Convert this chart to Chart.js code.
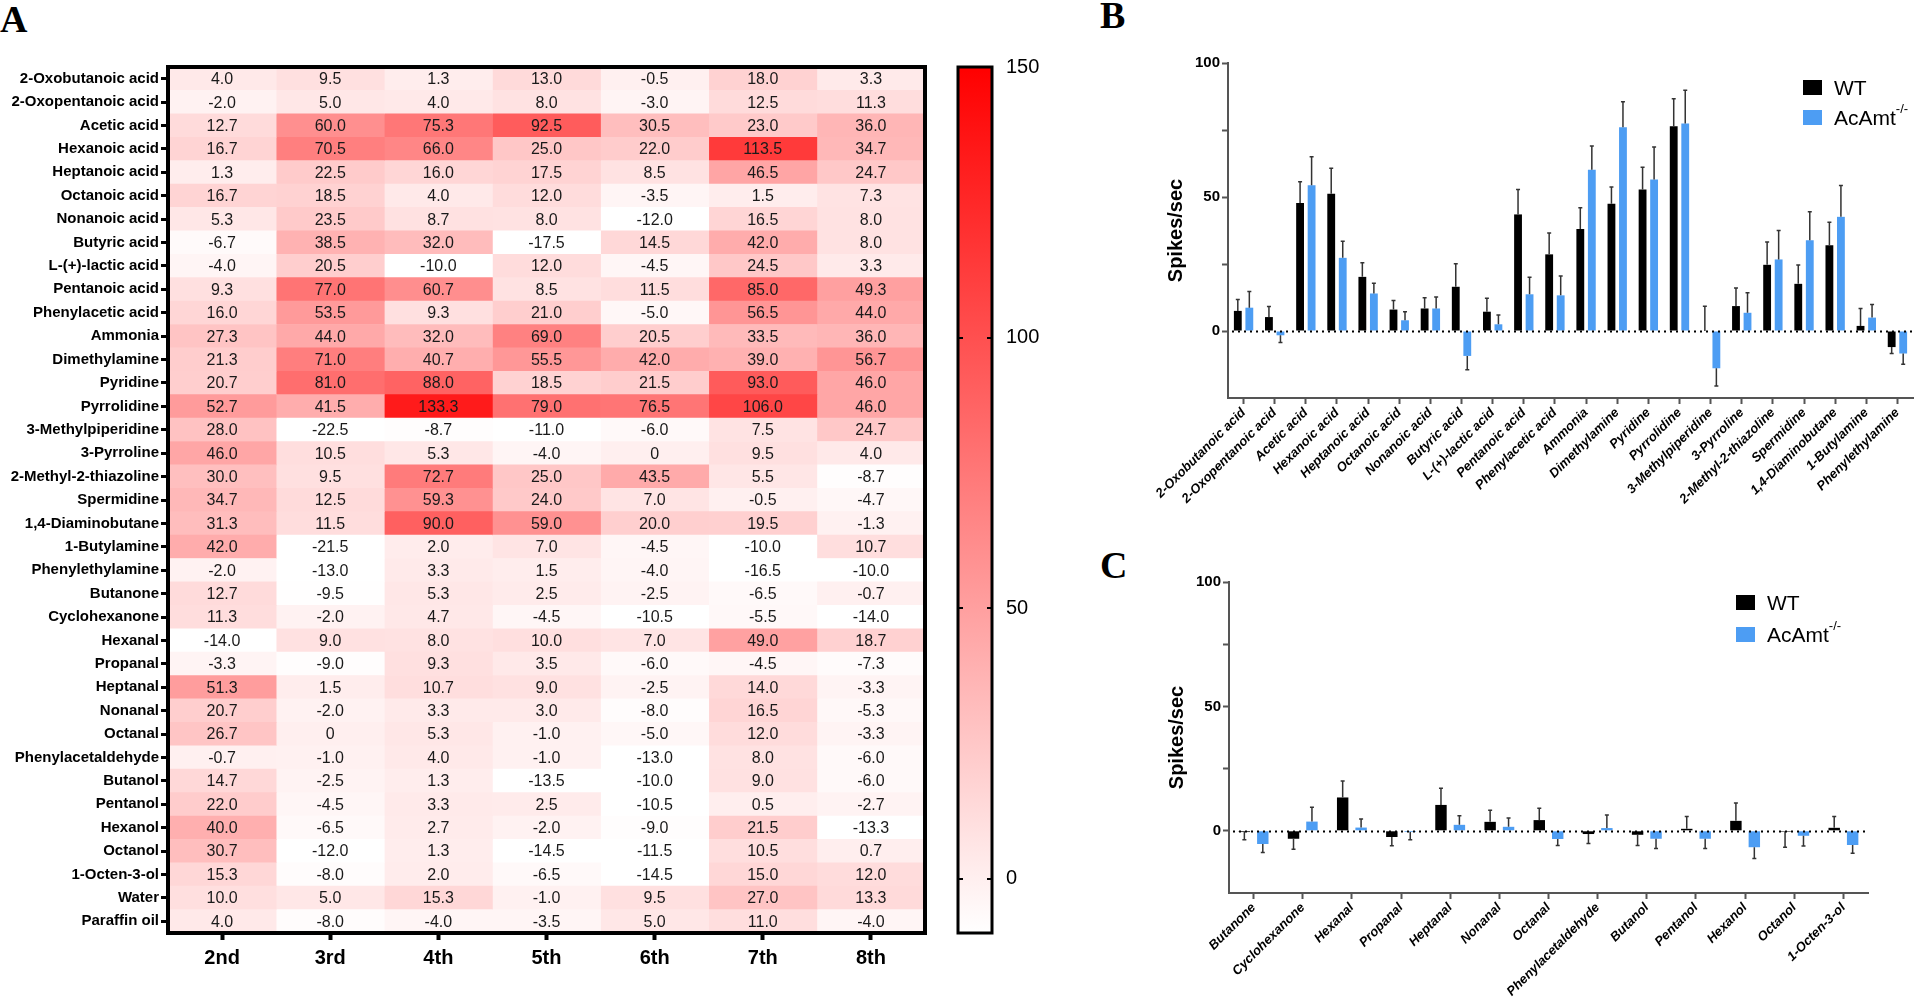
<!DOCTYPE html>
<html>
<head>
<meta charset="utf-8">
<script src="https://cdn.jsdelivr.net/npm/chart.js@4.4.1/dist/chart.umd.min.js"></script>
<style>
  html, body { margin: 0; padding: 0; background: #fff; }
  body { width: 1920px; height: 1004px; position: relative; overflow: hidden; font-family: "Liberation Sans", Arial, sans-serif; }
  canvas { position: absolute; }
  .panel { position: absolute; font-family: "Liberation Serif", "Times New Roman", serif; font-weight: bold; font-size: 38px; line-height: 38px; }
  .leg { position: absolute; display: flex; align-items: center; height: 15px; font-size: 21px; line-height: 15px; color: #000; }
  .leg .box { width: 19px; height: 15px; margin-right: 12px; }
  .leg sup { font-size: 13px; position: relative; top: -9px; vertical-align: baseline; }
</style>
</head>
<body>
<div class="panel" style="left:0px;top:0px;">A</div>
<div class="panel" style="left:1100px;top:-4px;">B</div>
<div class="panel" style="left:1100px;top:546px;">C</div>

<canvas id="heatmap" width="950" height="1004" style="left:0;top:0;"></canvas>
<canvas id="colorbar" width="110" height="1004" style="left:950px;top:0;"></canvas>
<canvas id="chartB" width="790" height="560" style="left:1130px;top:0;"></canvas>
<canvas id="chartC" width="790" height="444" style="left:1130px;top:560px;"></canvas>

<div class="leg" style="left:1803px;top:80px;"><div class="box" style="background:#000"></div>WT</div>
<div class="leg" style="left:1803px;top:110px;"><div class="box" style="background:#4d9df3"></div>AcAmt<sup>-/-</sup></div>
<div class="leg" style="left:1736px;top:595px;"><div class="box" style="background:#000"></div>WT</div>
<div class="leg" style="left:1736px;top:627px;"><div class="box" style="background:#4d9df3"></div>AcAmt<sup>-/-</sup></div>

<script>
// ---- panel A: heatmap data ----
const stages = ["2nd", "3rd", "4th", "5th", "6th", "7th", "8th"];
const odorants = [
  "2-Oxobutanoic acid", "2-Oxopentanoic acid", "Acetic acid", "Hexanoic acid", "Heptanoic acid",
  "Octanoic acid", "Nonanoic acid", "Butyric acid", "L-(+)-lactic acid", "Pentanoic acid",
  "Phenylacetic acid", "Ammonia", "Dimethylamine", "Pyridine", "Pyrrolidine",
  "3-Methylpiperidine", "3-Pyrroline", "2-Methyl-2-thiazoline", "Spermidine", "1,4-Diaminobutane",
  "1-Butylamine", "Phenylethylamine", "Butanone", "Cyclohexanone", "Hexanal",
  "Propanal", "Heptanal", "Nonanal", "Octanal", "Phenylacetaldehyde",
  "Butanol", "Pentanol", "Hexanol", "Octanol", "1-Octen-3-ol", "Water", "Paraffin oil"
];
const stage2nd = [4.0, -2.0, 12.7, 16.7, 1.3, 16.7, 5.3, -6.7, -4.0, 9.3, 16.0, 27.3, 21.3, 20.7, 52.7, 28.0, 46.0, 30.0, 34.7, 31.3, 42.0, -2.0, 12.7, 11.3, -14.0, -3.3, 51.3, 20.7, 26.7, -0.7, 14.7, 22.0, 40.0, 30.7, 15.3, 10.0, 4.0];
const stage3rd = [9.5, 5.0, 60.0, 70.5, 22.5, 18.5, 23.5, 38.5, 20.5, 77.0, 53.5, 44.0, 71.0, 81.0, 41.5, -22.5, 10.5, 9.5, 12.5, 11.5, -21.5, -13.0, -9.5, -2.0, 9.0, -9.0, 1.5, -2.0, 0, -1.0, -2.5, -4.5, -6.5, -12.0, -8.0, 5.0, -8.0];
const stage4th = [1.3, 4.0, 75.3, 66.0, 16.0, 4.0, 8.7, 32.0, -10.0, 60.7, 9.3, 32.0, 40.7, 88.0, 133.3, -8.7, 5.3, 72.7, 59.3, 90.0, 2.0, 3.3, 5.3, 4.7, 8.0, 9.3, 10.7, 3.3, 5.3, 4.0, 1.3, 3.3, 2.7, 1.3, 2.0, 15.3, -4.0];
const stage5th = [13.0, 8.0, 92.5, 25.0, 17.5, 12.0, 8.0, -17.5, 12.0, 8.5, 21.0, 69.0, 55.5, 18.5, 79.0, -11.0, -4.0, 25.0, 24.0, 59.0, 7.0, 1.5, 2.5, -4.5, 10.0, 3.5, 9.0, 3.0, -1.0, -1.0, -13.5, 2.5, -2.0, -14.5, -6.5, -1.0, -3.5];
const stage6th = [-0.5, -3.0, 30.5, 22.0, 8.5, -3.5, -12.0, 14.5, -4.5, 11.5, -5.0, 20.5, 42.0, 21.5, 76.5, -6.0, 0, 43.5, 7.0, 20.0, -4.5, -4.0, -2.5, -10.5, 7.0, -6.0, -2.5, -8.0, -5.0, -13.0, -10.0, -10.5, -9.0, -11.5, -14.5, 9.5, 5.0];
const stage7th = [18.0, 12.5, 23.0, 113.5, 46.5, 1.5, 16.5, 42.0, 24.5, 85.0, 56.5, 33.5, 39.0, 93.0, 106.0, 7.5, 9.5, 5.5, -0.5, 19.5, -10.0, -16.5, -6.5, -5.5, 49.0, -4.5, 14.0, 16.5, 12.0, 8.0, 9.0, 0.5, 21.5, 10.5, 15.0, 27.0, 11.0];
const stage8th = [3.3, 11.3, 36.0, 34.7, 24.7, 7.3, 8.0, 8.0, 3.3, 49.3, 44.0, 36.0, 56.7, 46.0, 46.0, 24.7, 4.0, -8.7, -4.7, -1.3, 10.7, -10.0, -0.7, -14.0, 18.7, -7.3, -3.3, -5.3, -3.3, -6.0, -6.0, -2.7, -13.3, 0.7, 12.0, 13.3, -4.0];
const colorMin = -10;
const colorMax = 150;
const colorTicks = [0, 50, 100, 150];

// ---- panel B ----
const acidAmineOdors = [
  "2-Oxobutanoic acid", "2-Oxopentanoic acid", "Acetic acid", "Hexanoic acid", "Heptanoic acid",
  "Octanoic acid", "Nonanoic acid", "Butyric acid", "L-(+)-lactic acid", "Pentanoic acid",
  "Phenylacetic acid", "Ammonia", "Dimethylamine", "Pyridine", "Pyrrolidine",
  "3-Methylpiperidine", "3-Pyrroline", "2-Methyl-2-thiazoline", "Spermidine", "1,4-Diaminobutane",
  "1-Butylamine", "Phenylethylamine"
];
const wtB = [7.5, 5.2, 47.8, 51.2, 20.2, 8.0, 8.4, 16.5, 7.2, 43.5, 28.6, 38.1, 47.5, 52.8, 76.4, 0, 9.3, 24.7, 17.6, 32.0, 1.9, -6.0];
const wtErrB = [4.3, 3.9, 7.9, 9.5, 5.3, 3.4, 4.0, 8.6, 5.0, 9.3, 8.0, 7.9, 6.2, 8.3, 10.3, 9.2, 6.7, 8.5, 7.0, 8.6, 6.5, 2.4];
const koB = [8.7, -1.6, 54.4, 27.3, 14.0, 4.0, 8.4, -9.3, 2.5, 13.7, 13.3, 60.2, 76.0, 56.5, 77.4, -13.9, 6.8, 26.7, 33.9, 42.6, 5.0, -8.4];
const koErrB = [6.0, 2.7, 10.6, 6.2, 3.8, 3.2, 4.3, 5.2, 3.5, 6.4, 7.2, 8.8, 9.5, 12.2, 12.4, 6.6, 7.5, 10.8, 10.6, 11.7, 4.9, 4.0];

// ---- panel C ----
const otherOdors = ["Butanone", "Cyclohexanone", "Hexanal", "Propanal", "Heptanal", "Nonanal", "Octanal", "Phenylacetaldehyde", "Butanol", "Pentanol", "Hexanol", "Octanol", "1-Octen-3-ol"];
const wtC = [-0.5, -3.2, 13.4, -2.5, 10.4, 3.6, 4.3, -1.3, -1.6, 0.8, 4.0, -0.4, 1.2];
const wtErrC = [3.1, 4.2, 6.6, 3.5, 6.7, 4.7, 4.8, 3.8, 4.3, 4.9, 7.2, 6.2, 4.5];
const koC = [-5.3, 3.7, 1.3, -0.5, 2.4, 1.6, -3.3, 1.1, -3.2, -3.2, -6.6, -2.0, -5.7];
const koErrC = [3.4, 5.8, 3.4, 3.1, 3.6, 3.5, 2.6, 5.3, 3.9, 3.9, 4.5, 4.1, 3.3];

const spikeTicks = [0, 25, 50, 75, 100];

Chart.defaults.font.family = "'Liberation Sans', Arial, sans-serif";
Chart.defaults.color = "#000";

function heatColor(v) {
  let t = (v - colorMin) / (colorMax - colorMin);
  t = Math.max(0, Math.min(1, t));
  const gb = Math.round(255 * (1 - t));
  return `rgb(255,${gb},${gb})`;
}

const heatColumns = [stage2nd, stage3rd, stage4th, stage5th, stage6th, stage7th, stage8th];

// write numbers in the cells
const cellText = {
  id: "cellText",
  afterDatasetsDraw(chart) {
    const ctx = chart.ctx;
    ctx.save();
    ctx.font = "16px 'Liberation Sans', Arial, sans-serif";
    ctx.fillStyle = "#1a1a1a";
    ctx.textAlign = "center";
    ctx.textBaseline = "middle";
    chart.data.datasets.forEach((ds, k) => {
      chart.getDatasetMeta(k).data.forEach((bar, i) => {
        const v = ds.heat[i];
        ctx.fillText(v === 0 ? "0" : v.toFixed(1), (bar.x + bar.base) / 2, bar.y + 1);
      });
    });
    ctx.restore();
  }
};

const frame = {
  id: "frame",
  afterDraw(chart, args, opts) {
    const a = chart.chartArea;
    const ctx = chart.ctx;
    ctx.save();
    ctx.strokeStyle = "#000";
    ctx.lineWidth = opts.width || 4;
    ctx.strokeRect(a.left, a.top, a.right - a.left, a.bottom - a.top);
    ctx.restore();
  }
};

new Chart(document.getElementById("heatmap"), {
  type: "bar",
  data: {
    labels: odorants,
    datasets: heatColumns.map((col, k) => ({
      label: stages[k],
      data: col.map(() => [k - 0.5, k + 0.5]),
      heat: col,
      backgroundColor: col.map(heatColor),
      borderWidth: 0,
      grouped: false,
      barPercentage: 1,
      categoryPercentage: 1
    }))
  },
  options: {
    indexAxis: "y",
    responsive: false,
    animation: false,
    layout: { padding: { top: 67, right: 25, left: 0, bottom: 0 } },
    plugins: { legend: { display: false }, tooltip: { enabled: false }, frame: { width: 4 } },
    scales: {
      x: {
        type: "linear",
        min: -0.5,
        max: 6.5,
        afterBuildTicks: s => { s.ticks = stages.map((_, i) => ({ value: i })); },
        ticks: { callback: v => stages[v], font: { size: 20, weight: "bold" }, color: "#000", padding: 6, maxRotation: 0 },
        grid: { drawOnChartArea: false, tickLength: 7, tickWidth: 4, tickColor: "#000" },
        border: { display: false },
        afterFit: s => { s.height = 71; }
      },
      y: {
        ticks: { font: { size: 15, weight: "bold" }, color: "#000", autoSkip: false, padding: 2 },
        grid: { offset: false, drawOnChartArea: false, tickLength: 7, tickWidth: 3, tickColor: "#000" },
        border: { display: false },
        afterFit: s => { s.width = 168; }
      }
    }
  },
  plugins: [cellText, frame]
});

// colour scale bar
const barTicks = {
  id: "barTicks",
  afterDraw(chart) {
    const a = chart.chartArea;
    const y = chart.scales.y;
    const ctx = chart.ctx;
    ctx.save();
    ctx.strokeStyle = "#000";
    ctx.lineWidth = 2;
    colorTicks.filter(v => v < colorMax).forEach(v => {
      const py = Math.round(y.getPixelForValue(v));
      ctx.beginPath();
      ctx.moveTo(a.left, py); ctx.lineTo(a.left + 5, py);
      ctx.moveTo(a.right - 5, py); ctx.lineTo(a.right, py);
      ctx.stroke();
    });
    ctx.restore();
  }
};

new Chart(document.getElementById("colorbar"), {
  type: "bar",
  data: {
    labels: [""],
    datasets: [{
      data: [[colorMin, colorMax]],
      backgroundColor: c => {
        const a = c.chart.chartArea;
        if (!a) return "#fff";
        const g = c.chart.ctx.createLinearGradient(0, a.bottom, 0, a.top);
        g.addColorStop(0, heatColor(colorMin));
        g.addColorStop(1, heatColor(colorMax));
        return g;
      },
      borderWidth: 0,
      barPercentage: 1,
      categoryPercentage: 1
    }]
  },
  options: {
    responsive: false,
    animation: false,
    layout: { padding: { top: 67, bottom: 71, left: 8, right: 0 } },
    plugins: { legend: { display: false }, tooltip: { enabled: false }, frame: { width: 3 } },
    scales: {
      x: { display: false },
      y: {
        position: "right",
        min: colorMin,
        max: colorMax,
        afterBuildTicks: s => { s.ticks = colorTicks.map(v => ({ value: v })); },
        ticks: { font: { size: 20 }, color: "#000", padding: 14 },
        grid: { drawOnChartArea: false, drawTicks: false },
        border: { display: false },
        afterFit: s => { s.width = 68; }
      }
    }
  },
  plugins: [barTicks, frame]
});

// error bars and dotted zero line for the bar charts
const errorBars = {
  id: "errorBars",
  afterDatasetsDraw(chart) {
    const ctx = chart.ctx;
    const y = chart.scales.y;
    const a = chart.chartArea;
    ctx.save();
    ctx.strokeStyle = "#333";
    ctx.lineWidth = 1.5;
    chart.data.datasets.forEach((ds, k) => {
      chart.getDatasetMeta(k).data.forEach((bar, i) => {
        const v = ds.data[i];
        const e = ds.errors[i];
        const end = y.getPixelForValue(v >= 0 ? v + e : v - e);
        ctx.beginPath();
        ctx.moveTo(bar.x, bar.y);
        ctx.lineTo(bar.x, end);
        ctx.moveTo(bar.x - 2, end);
        ctx.lineTo(bar.x + 2, end);
        ctx.stroke();
      });
    });
    const zy = Math.round(y.getPixelForValue(0)) + 0.5;
    ctx.strokeStyle = "#000";
    ctx.lineWidth = 2;
    ctx.setLineDash([2, 4]);
    ctx.beginPath();
    ctx.moveTo(a.left + 4, zy);
    ctx.lineTo(a.right, zy);
    ctx.stroke();
    ctx.restore();
  }
};

function spikesChart(id, labels, wt, wtErr, ko, koErr, pad, axisH, catPct, barPct) {
  return new Chart(document.getElementById(id), {
    type: "bar",
    data: {
      labels: labels,
      datasets: [
        { label: "WT", data: wt, errors: wtErr, backgroundColor: "#000", borderWidth: 0, categoryPercentage: catPct, barPercentage: barPct },
        { label: "AcAmt-/-", data: ko, errors: koErr, backgroundColor: "#4d9df3", borderWidth: 0, categoryPercentage: catPct, barPercentage: barPct }
      ]
    },
    options: {
      responsive: false,
      animation: false,
      layout: { padding: pad },
      plugins: { legend: { display: false }, tooltip: { enabled: false } },
      scales: {
        x: {
          ticks: { font: { size: 13, weight: "bold", style: "italic" }, color: "#000", minRotation: 45, maxRotation: 45, autoSkip: false, padding: 1 },
          grid: { offset: false, drawOnChartArea: false, tickLength: 6, tickWidth: 2, tickColor: "#555" },
          border: { color: "#555", width: 2 },
          afterFit: s => { s.height = axisH; }
        },
        y: {
          min: -25,
          max: 100,
          afterBuildTicks: s => { s.ticks = spikeTicks.map(v => ({ value: v })); },
          ticks: { callback: v => (v % 50 === 0 ? v : ""), font: { size: 15, weight: "bold" }, color: "#000", padding: 2 },
          grid: { drawOnChartArea: false, tickLength: 6, tickWidth: 2, tickColor: "#555" },
          border: { color: "#555", width: 2 },
          title: { display: true, text: "Spikes/sec", font: { size: 20, weight: "bold" }, color: "#000", padding: 4 },
          afterFit: s => { s.width = 68; }
        }
      }
    },
    plugins: [errorBars]
  });
}

spikesChart("chartB", acidAmineOdors, wtB, wtErrB, koB, koErrB, { left: 30, top: 63, right: 7, bottom: 0 }, 162, 0.74, 0.68);
spikesChart("chartC", otherOdors, wtC, wtErrC, koC, koErrC, { left: 31, top: 22, right: 52, bottom: 0 }, 111, 0.75, 0.62);
</script>
</body>
</html>
